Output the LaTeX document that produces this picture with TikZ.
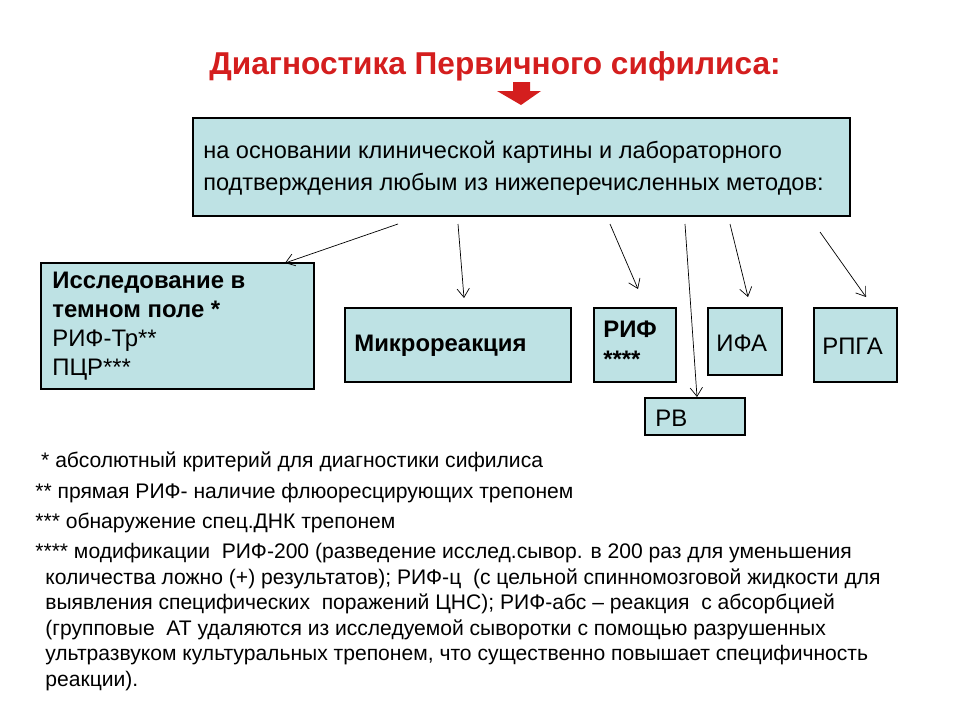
\documentclass[tikz,border=0pt]{standalone}
\usepackage{fontspec}
\setmainfont{Liberation Sans}
\definecolor{boxfill}{RGB}{190,226,228}
\definecolor{titlered}{RGB}{212,30,30}
\tikzset{
  methodbox/.style={draw,fill=boxfill,line width=0.6pt},
  thinarrow/.style={-{Straight Barb[length=5pt,width=7pt]},line width=0.4pt},
  boxtext/.style={font=\fontsize{13.6pt}{16pt}\selectfont,inner sep=0pt},
  notetext/.style={font=\fontsize{12pt}{14.6pt}\selectfont,inner sep=0pt,anchor=west}
}
\usetikzlibrary{arrows.meta}
\begin{document}
\begin{tikzpicture}[x=0.02cm,y=-0.02cm]
\useasboundingbox (0,0) rectangle (960,720);

\node[font=\bfseries\fontsize{18pt}{20pt}\selectfont,text=titlered] (title) at (495,66) {Диагностика Первичного сифилиса:};
\fill[titlered] (513,82) -- (530,82) -- (530,91) -- (541,91) -- (521,105) -- (497,91) -- (513,91) -- cycle;

\draw[methodbox] (193,118) rectangle (850,216);
\node[boxtext,anchor=west,align=left,font=\fontsize{13.4pt}{18pt}\selectfont] (base) at (203,168)
  {на основании клинической картины и лабораторного\\подтверждения любым из нижеперечисленных методов:};

\draw[methodbox] (41,263) rectangle (314,389);
\node[boxtext,anchor=north west,align=left,font=\fontsize{13.6pt}{16.5pt}\selectfont] (dark) at (52,272)
  {\textbf{Исследование в}\\\textbf{темном поле *}\\РИФ-Тр**\\ПЦР***};
\draw[methodbox] (345,308) rectangle (571,382);
\node[boxtext,anchor=west] (micro) at (354,346) {\textbf{Микрореакция}};
\draw[methodbox] (594,308) rectangle (676,382);
\node[boxtext,anchor=north west,align=left] (rif) at (603,321) {\textbf{РИФ}\\[1pt]\textbf{****}};
\draw[methodbox] (708,308) rectangle (782,375);
\node[boxtext,anchor=west] (ifa) at (716,343) {ИФА};
\draw[methodbox] (814,308) rectangle (897,382);
\node[boxtext,anchor=west] (rpga) at (822,346) {РПГА};
\draw[methodbox] (645,398) rectangle (745,435);
\node[boxtext,anchor=west] (rv) at (655,418) {РВ};

\coordinate (s1) at (398,224); \coordinate (e1) at (285,263);
\coordinate (s2) at (458,224); \coordinate (e2) at (464,298);
\coordinate (s3) at (610,224); \coordinate (e3) at (638,289);
\coordinate (s4) at (685,224); \coordinate (e4) at (697,397);
\coordinate (s5) at (730,224); \coordinate (e5) at (748,297);
\coordinate (s6) at (820,232); \coordinate (e6) at (866,297);
\foreach \i in {1,...,6} \draw[thinarrow] (s\i) -- (e\i);

\node[notetext] (n1) at (35,462) {\ * абсолютный критерий для диагностики сифилиса};
\node[notetext] (n2) at (35,493) {** прямая РИФ- наличие флюоресцирующих трепонем};
\node[notetext] (n3) at (35,523) {*** обнаружение спец.ДНК трепонем};
\node[notetext] (n4) at (35,553) {**** модификации \ РИФ-200 (разведение исслед.сывор. в 200 раз для уменьшения};
\node[notetext,anchor=north west,align=left] (n5) at (45,568)
  {количества ложно (+) результатов); РИФ-ц \ (с цельной спинномозговой жидкости для\\
   выявления специфических \ поражений ЦНС); РИФ-абс -- реакция \ с абсорбцией\\
   (групповые \ АТ удаляются из исследуемой сыворотки с помощью разрушенных\\
   ультразвуком культуральных трепонем, что существенно повышает специфичность\\
   реакции).};
\end{tikzpicture}
\end{document}
